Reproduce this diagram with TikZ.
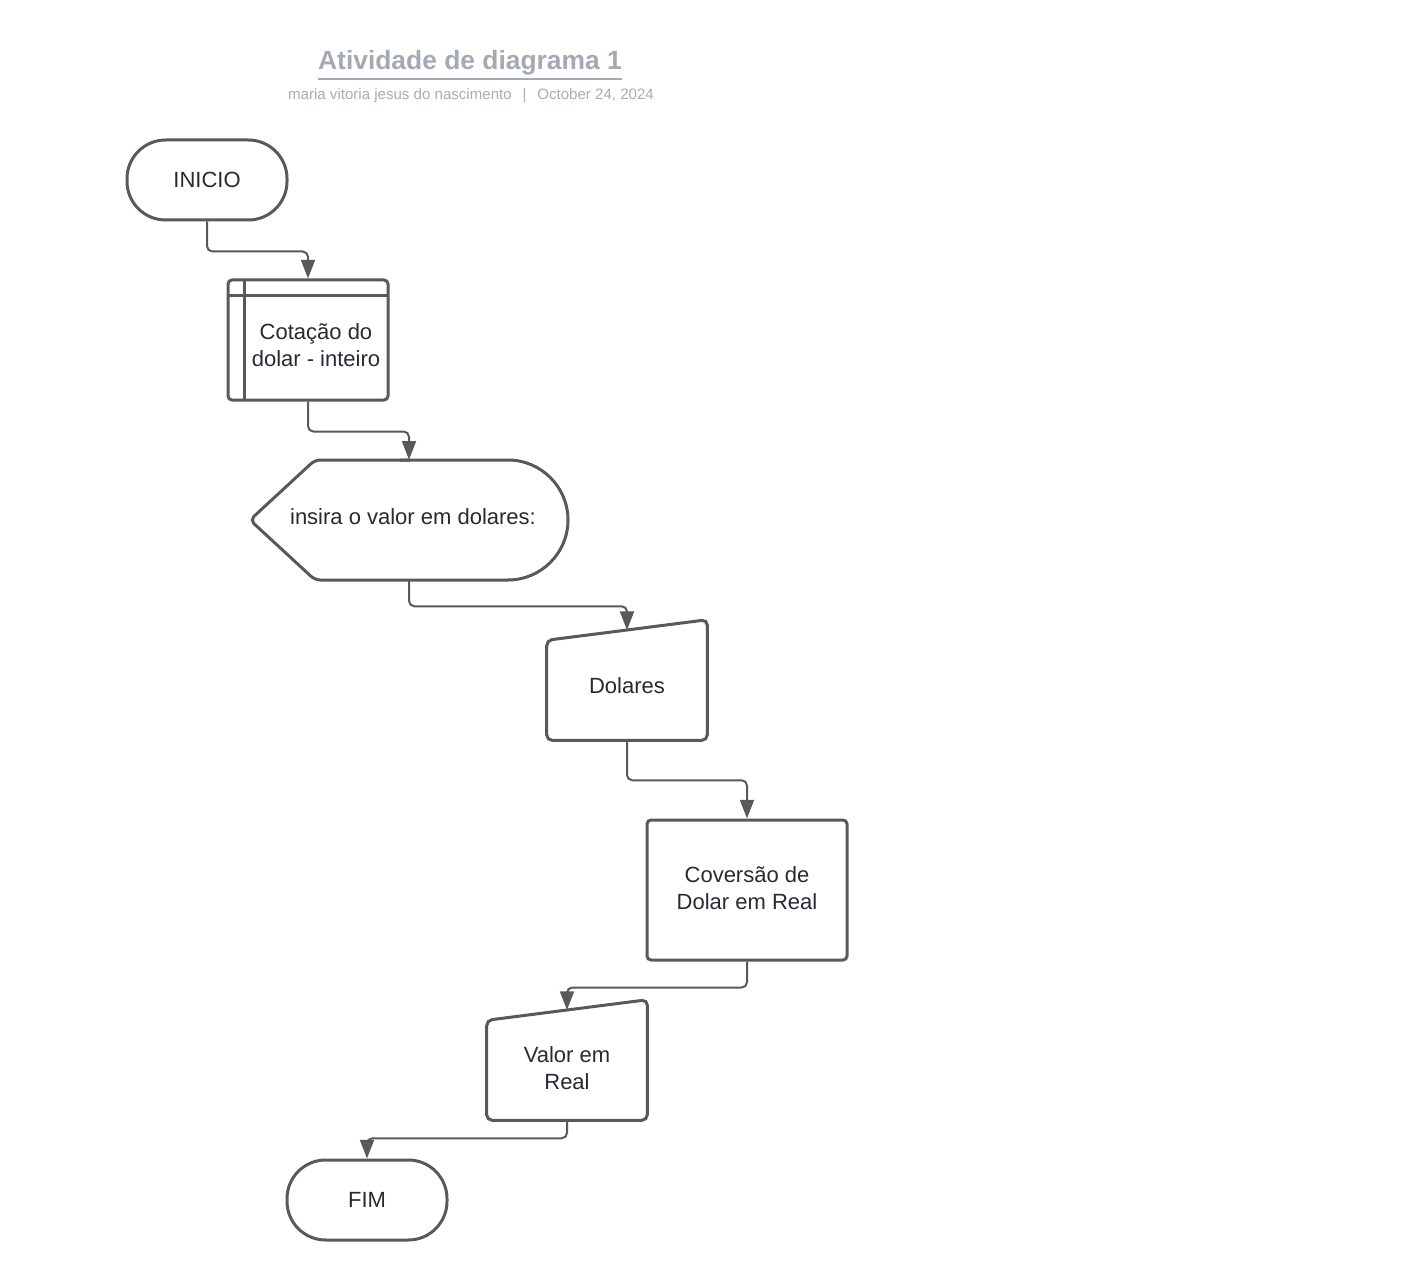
\documentclass[tikz,border=0pt]{standalone}
\usepackage{fontspec}
\setmainfont{Liberation Sans}
\usetikzlibrary{arrows.meta}
\definecolor{edge}{HTML}{595959}
\definecolor{ink}{HTML}{262A31}
\definecolor{headc}{HTML}{A4A9B3}
\definecolor{subc}{HTML}{A8ACB5}

\begin{document}
\begin{tikzpicture}[x=0.75pt,y=-0.75pt,
  shapeline/.style={draw=edge, line width=2.25pt},
  txt/.style={text=ink, font=\fontsize{16.5}{20}\selectfont, align=center, inner sep=0pt},
  frame/.style={minimum width=120pt, minimum height=90pt, inner sep=0pt},
  terminal/.style={shapeline, rounded corners=29pt, minimum width=120pt, minimum height=60pt, txt},
  flow/.style={draw=edge, line width=1.5pt, rounded corners=4pt, -{Triangle[length=14pt,width=10.5pt]}}]

\useasboundingbox (0,0) rectangle (1407,1280);

% heading
\node[text=headc, font=\bfseries\fontsize{19.8}{24}\selectfont, inner sep=0pt] (title) at (470,63) {Atividade de diagrama 1};
\draw[headc, line width=1.5pt] ([yshift=-7pt]title.base west) -- ([yshift=-7pt]title.base east);
\node[text=subc, font=\fontsize{11.3}{13}\selectfont, inner sep=0pt] (byline) at (471,96) {maria vitoria jesus do nascimento \ \,|\, \ October 24, 2024};

% start
\node[terminal] (ini) at (207,180) {INICIO};

% predefined process
\node[frame, shapeline, rounded corners=3pt] (pre) at (308,340) {};
\draw[shapeline] (244,280) -- (244,400);
\draw[shapeline] (228,296) -- (388,296);
\node[txt] (pretxt) at (316,345) {Cotação do\\dolar - inteiro};

% display
\node[frame, minimum width=238.5pt] (disp) at (409,520) {};
\draw[shapeline, rounded corners=4pt] (410,460) -- (315,460) -- (250,520) -- (315,580) -- (410,580) -- (508,580);
\draw[shapeline] (507,580) -- (508,580) .. controls (541,580) and (568,553) .. (568,520)
  .. controls (568,487) and (541,460) .. (508,460) -- (400,460);
\node[txt] (disptxt) at (413,517) {insira o valor em dolares:};

% manual input: dollars
\node[frame] (dol) at (627,680) {};
\draw[shapeline, rounded corners=4pt] (dol.south) -- (dol.south west) -- ++(0,-100) -- (dol.north east) -- (dol.south east) -- cycle;
\coordinate (dolin) at (627,630);
\node[txt] (doltxt) at (627,686) {Dolares};

% process
\node[frame, shapeline, rounded corners=3pt, minimum width=150pt, minimum height=105pt] (conv) at (747,890) {};
\node[txt] (convtxt) at (747,888) {Coversão de\\Dolar em Real};

% manual input: reais
\node[frame] (val) at (567,1060) {};
\draw[shapeline, rounded corners=4pt] (val.south) -- (val.south west) -- ++(0,-100) -- (val.north east) -- (val.south east) -- cycle;
\coordinate (valin) at (567,1010);
\node[txt] (valtxt) at (567,1068) {Valor em\\Real};

% end
\node[terminal] (fim) at (367,1200) {FIM};

% connectors
\draw[flow] (ini.south) -- ++(0,30) -| (pre.north);
\draw[flow] (pre.south) -- ++(0,30) -| (disp.north);
\draw[flow] (disp.south) -- ++(0,26) -| (dolin);
\draw[flow] (dol.south) -- ++(0,40) -| (conv.north);
\draw[flow] (conv.south) -- ++(0,26) -| (valin);
\draw[flow] (val.south) -- ++(0,18) -| (fim.north);
\end{tikzpicture}
\end{document}
